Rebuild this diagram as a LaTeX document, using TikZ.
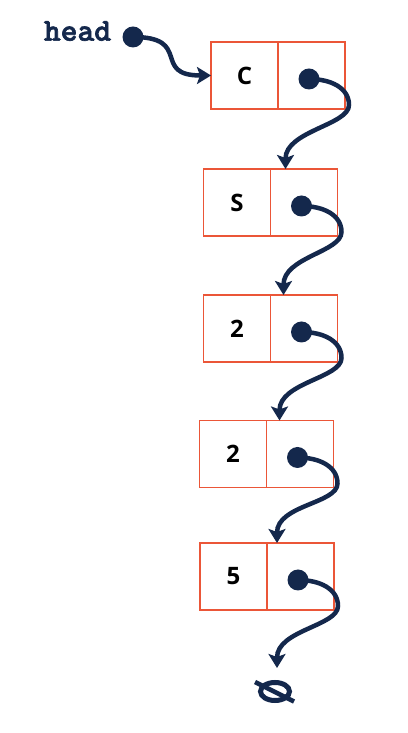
\documentclass[tikz,border=0pt]{standalone}
\usepackage{fontspec}
\usetikzlibrary{arrows.meta,positioning,shapes.geometric}
\newfontfamily\cellfont{Open Sans}
\newfontfamily\headfont{lmmonolt10-bold.otf}[FakeBold=2]
\definecolor{navy}{RGB}{20,40,76}
\definecolor{boxred}{RGB}{235,86,56}
\tikzset{
  cell/.style={draw=boxred, line width=1.5pt, rectangle, minimum width=67pt,
    minimum height=67pt, inner sep=0pt, outer sep=0pt,
    font=\cellfont\bfseries\fontsize{24}{24}\selectfont},
  ptrdot/.style={circle, fill=navy, minimum size=21pt, inner sep=0pt},
  link/.style={navy, line width=4.5pt,
    -{Stealth[length=14pt,width=17pt,inset=3pt]}},
  headlbl/.style={navy, inner sep=0pt,
    font=\headfont\fontsize{32}{32}\selectfont},
  nullsym/.style={ellipse, draw=navy, line width=5pt, minimum width=29pt,
    minimum height=18pt, inner sep=0pt}
}
\begin{document}
\begin{tikzpicture}[x=1pt,y=1pt]

	\useasboundingbox (0,0) rectangle (407,733);

	% head pointer
	\node[ptrdot] (hdot) at (133,696) {};
	\node[headlbl, anchor=east] (head) at ([xshift=-11,yshift=6]hdot.west) {head};

	% cells
	\node[cell] (d1) at (244.5,657.5) {C};
	\node[cell, right=0pt of d1] (p1) {};
	\node[cell] (d2) at (237,530.5) {S};
	\node[cell, right=0pt of d2] (p2) {};
	\node[cell] (d3) at (237,404.5) {2};
	\node[cell, right=0pt of d3] (p3) {};
	\node[cell] (d4) at (233,279) {2};
	\node[cell, right=0pt of d4] (p4) {};
	\node[cell] (d5) at (233.5,156.5) {5};
	\node[cell, right=0pt of d5] (p5) {};

	% next pointers
	\node[ptrdot] (o1) at ([shift={(-2.5,-3.5)}]p1.center) {};
	\node[ptrdot] (o2) at ([shift={(-2.5,-3.5)}]p2.center) {};
	\node[ptrdot] (o3) at ([shift={(-2.5,-3.5)}]p3.center) {};
	\node[ptrdot] (o4) at ([shift={(-2.5,-3.5)}]p4.center) {};
	\node[ptrdot] (o5) at ([shift={(-2.5,-3.5)}]p5.center) {};

	% null
	\node[nullsym] (null) at (275,41.5) {};
	\draw[navy, line width=4.5pt] ([shift={(-20,9.5)}]null.center) -- ([shift={(19,-10)}]null.center);

	% links
	\draw[link] (hdot.center) .. controls +(60,0) and +(-60,0) .. (d1.west);
	\draw[link] (o1.center) .. controls +(22,0) and +(0,17) .. ++(40,-26)
		.. controls +(0,-20) and +(0,38) .. ([xshift=15]p2.north west);
	\draw[link] (o2.center) .. controls +(22,0) and +(0,17) .. ++(40,-26)
		.. controls +(0,-20) and +(0,38) .. ([xshift=13]p3.north west);
	\draw[link] (o3.center) .. controls +(22,0) and +(0,17) .. ++(40,-26)
		.. controls +(0,-20) and +(0,38) .. ([xshift=13]p4.north west);
	\draw[link] (o4.center) .. controls +(22,0) and +(0,17) .. ++(40,-26)
		.. controls +(0,-20) and +(0,38) .. ([xshift=10]p5.north west);
	\draw[link] (o5.center) .. controls +(22,0) and +(0,17) .. ++(40,-26)
		.. controls +(0,-20) and +(0,38) .. ([xshift=2,yshift=12]null.north);

\end{tikzpicture}
\end{document}
